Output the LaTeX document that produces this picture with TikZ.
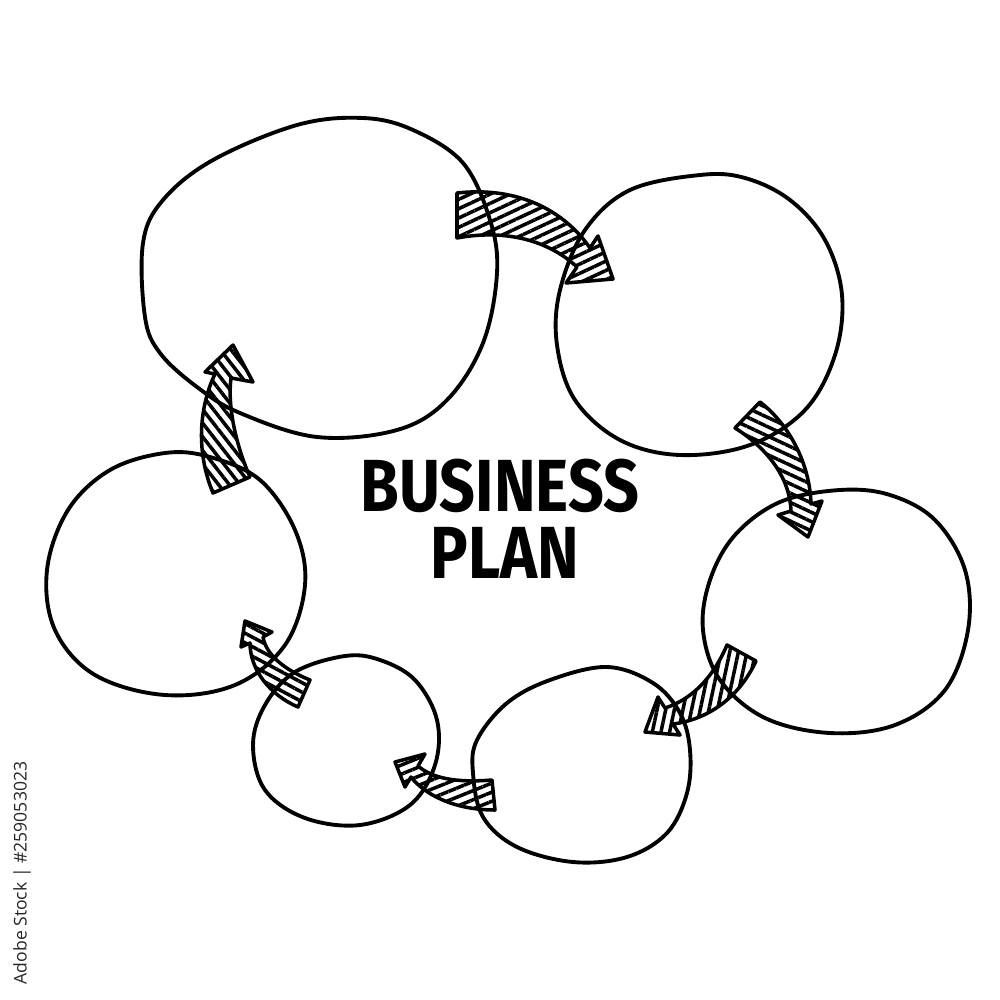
\documentclass[tikz,border=0pt]{standalone}
\usepackage{fontspec}
\setmainfont{Fira Sans}
\newfontfamily\wmfont{Open Sans}
\usetikzlibrary{patterns.meta}
\tikzset{
  ring/.style={draw=black, line width=1.1pt, line join=round},
  harrow/.style={draw=black, line width=1pt, line join=round,
    pattern={Lines[angle=#1,distance=2.4pt,line width=1pt]}, pattern color=black},
  title/.style={font=\bfseries\fontsize{21}{21}\selectfont, inner sep=0pt},
}
\begin{document}
\begin{tikzpicture}[x=0.01cm,y=-0.01cm]
\useasboundingbox (0,0) rectangle (1000,1000);
\fill[white] (0,0) rectangle (1000,1000);

% circles
\draw[ring] plot[smooth cycle, tension=0.6] coordinates {(363,118) (297,125) (213,160) (163,200) (143,243) (145,317) (160,353) (197,387) (240,413) (317,437) (397,430) (447,400) (483,343) (497,273) (490,220) (463,163) (413,130)};
\draw[ring] plot[smooth cycle, tension=0.6] coordinates {(700,175) (630,190) (585,230) (560,290) (557,345) (575,400) (620,440) (680,455) (750,445) (805,410) (835,355) (842,295) (825,240) (790,200) (745,178)};
\draw[ring] plot[smooth cycle, tension=0.6] coordinates {(840,490) (780,502) (735,535) (710,580) (703,630) (720,680) (765,718) (830,733) (895,725) (945,690) (968,630) (965,570) (935,520) (890,495)};
\draw[ring] plot[smooth cycle, tension=0.6] coordinates {(607,667) (550,680) (507,703) (477,740) (473,773) (483,817) (517,847) (573,862) (627,857) (667,833) (687,793) (690,750) (680,713) (653,683)};
\draw[ring] plot[smooth cycle, tension=0.6] coordinates {(345,656) (295,672) (265,705) (253,745) (265,790) (305,818) (360,825) (410,805) (435,765) (437,720) (415,680) (380,660)};
\draw[ring] plot[smooth cycle, tension=0.6] coordinates {(165,453) (110,470) (68,510) (47,570) (55,630) (95,675) (165,695) (235,685) (285,645) (305,585) (295,530) (260,480) (210,457)};

% arrows
\draw[harrow=25] (457,193) .. controls (520,186) and (565,212) .. (590,248) -- (598,236) -- (613,279) -- (566,283) -- (577,267) .. controls (548,240) and (505,229) .. (457,238) -- cycle;
\draw[harrow=-25] (760,402) .. controls (790,425) and (810,465) .. (811,504) -- (822,501) -- (808,537) -- (778,515) -- (791,511) .. controls (790,480) and (770,450) .. (735,428) -- cycle;
\draw[harrow=78] (727,645) .. controls (712,680) and (690,700) .. (665,708) -- (658,697) -- (645,732) -- (680,735) -- (673,724) .. controls (705,720) and (738,700) .. (756,661) -- cycle;
\draw[harrow=22] (492,780) .. controls (455,783) and (432,778) .. (418,766) -- (425,754) -- (395,762) -- (405,787) -- (411,777) .. controls (425,795) and (455,810) .. (495,810) -- cycle;
\draw[harrow=-28] (310,680) .. controls (285,670) and (266,655) .. (263,637) -- (272,632) -- (245,621) -- (241,647) -- (250,643) .. controls (250,670) and (270,695) .. (298,707) -- cycle;
\draw[harrow=-52] (213,493) .. controls (195,450) and (200,405) .. (215,374) -- (205,372) -- (233,345) -- (253,382) -- (231,378) .. controls (227,410) and (238,450) .. (250,477) -- cycle;

% title
\node[title] (t1) at (500,486) {\scalebox{0.85}[1]{BUSINESS}};
\node[title] (t2) at (505,553) {\scalebox{0.85}[1]{PLAN}};

% side credit
\node[font=\wmfont\fontsize{5}{5}\selectfont, text=black!85, rotate=90, inner sep=0pt] (wm) at (22,873) {Adobe Stock | \#259053023};
\end{tikzpicture}
\end{document}
